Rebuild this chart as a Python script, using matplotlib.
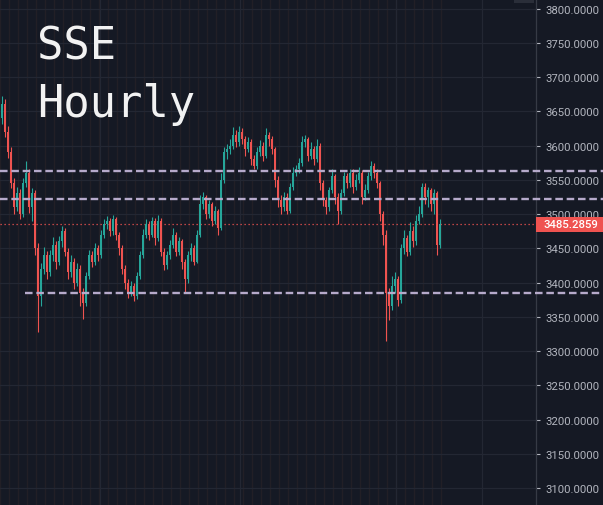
import matplotlib
matplotlib.use('Agg')
import matplotlib.pyplot as plt
from matplotlib.patches import Rectangle

# ---- data ----
first_open = 3640
closes = [
    3660, 3620, 3590, 3545, 3510,
    3530, 3500, 3545, 3560, 3510,
    3530, 3450, 3380, 3420, 3440,
    3415, 3440, 3455, 3430, 3460,
    3475, 3445, 3415, 3430, 3400,
    3420, 3385, 3370, 3410, 3440,
    3430, 3450, 3440, 3470, 3485,
    3490, 3475, 3492, 3470, 3450,
    3420, 3400, 3385, 3395, 3380,
    3410, 3440, 3470, 3485, 3470,
    3490, 3465, 3490, 3445, 3425,
    3440, 3455, 3470, 3445, 3460,
    3430, 3405, 3440, 3450, 3430,
    3470, 3515, 3525, 3500, 3515,
    3490, 3505, 3480, 3550, 3590,
    3595, 3600, 3615, 3605, 3620,
    3610, 3595, 3605, 3580, 3570,
    3590, 3600, 3585, 3615, 3610,
    3595, 3550, 3520, 3510, 3525,
    3505, 3540, 3560, 3565, 3575,
    3605, 3610, 3585, 3595, 3580,
    3600, 3545, 3520, 3510, 3535,
    3555, 3525, 3505, 3530, 3555,
    3545, 3560, 3540, 3550, 3560,
    3525, 3535, 3555, 3570, 3560,
    3545, 3500, 3470, 3385, 3365,
    3395, 3405, 3375, 3450, 3465,
    3445, 3475, 3460, 3490, 3500,
    3540, 3525, 3535, 3515, 3530,
    3455, 3485.2859,
]
highs = [
    3672, 3668, 3628, 3598, 3552,
    3540, 3536, 3552, 3578, 3565,
    3538, 3535, 3458, 3428, 3452,
    3446, 3448, 3466, 3460, 3468,
    3482, 3480, 3450, 3440, 3436,
    3428, 3425, 3392, 3416, 3448,
    3446, 3458, 3455, 3476, 3492,
    3497, 3494, 3498, 3496, 3474,
    3455, 3425, 3405, 3402, 3400,
    3416, 3446, 3478, 3492, 3490,
    3496, 3494, 3498, 3494, 3450,
    3446, 3462, 3480, 3474, 3466,
    3464, 3434, 3446, 3458, 3455,
    3476, 3528, 3532, 3528, 3520,
    3518, 3512, 3508, 3560, 3598,
    3602, 3610, 3627, 3622, 3628,
    3625, 3614, 3612, 3610, 3586,
    3598, 3608, 3605, 3625, 3620,
    3614, 3598, 3555, 3528, 3532,
    3530, 3546, 3568, 3572, 3582,
    3614, 3616, 3612, 3605, 3600,
    3610, 3603, 3550, 3525, 3540,
    3566, 3558, 3530, 3536, 3562,
    3560, 3566, 3565, 3558, 3568,
    3564, 3544, 3562, 3578, 3575,
    3565, 3548, 3505, 3476, 3392,
    3410, 3415, 3410, 3456, 3476,
    3470, 3488, 3482, 3498, 3512,
    3546, 3545, 3540, 3538, 3536,
    3534, 3492,
]
lows = [
    3632, 3612, 3582, 3538, 3500,
    3505, 3492, 3496, 3540, 3502,
    3490, 3440, 3328, 3365, 3412,
    3405, 3410, 3432, 3420, 3425,
    3452, 3438, 3405, 3408, 3390,
    3395, 3365, 3347, 3365, 3405,
    3422, 3426, 3432, 3436, 3465,
    3478, 3468, 3470, 3462, 3440,
    3412, 3390, 3378, 3380, 3373,
    3376, 3405, 3436, 3465, 3462,
    3466, 3455, 3460, 3438, 3418,
    3420, 3435, 3450, 3438, 3440,
    3420, 3385, 3400, 3432, 3425,
    3428, 3466, 3508, 3492, 3494,
    3482, 3485, 3470, 3476, 3545,
    3580, 3588, 3595, 3598, 3600,
    3602, 3585, 3590, 3572, 3565,
    3566, 3585, 3578, 3582, 3600,
    3588, 3540, 3510, 3500, 3505,
    3500, 3502, 3535, 3555, 3560,
    3570, 3598, 3578, 3580, 3572,
    3576, 3535, 3512, 3500, 3505,
    3530, 3515, 3485, 3500, 3526,
    3538, 3540, 3530, 3535, 3545,
    3515, 3520, 3530, 3550, 3552,
    3538, 3490, 3455, 3315, 3345,
    3360, 3385, 3365, 3370, 3442,
    3438, 3440, 3452, 3455, 3485,
    3495, 3515, 3510, 3505, 3500,
    3440, 3450,
]
level_prices = [3563, 3522, 3385]
title_lines = ["SSE", "Hourly"]
y_ticks = list(range(3100, 3801, 50))
last_price = closes[-1]

# ---- style ----
BG = '#151924'
GRID = '#232733'
UP = '#26a69a'
DOWN = '#ef5350'
LEVEL = '#b6aacb'
TXT = '#b2b5be'

W, H = 603, 506
fig = plt.figure(figsize=(W / 100, H / 100), dpi=100, facecolor=BG)
axw = 536 / W
ax = fig.add_axes([0, 0, axw, 1])
ax.set_facecolor(BG)

n = len(closes)
opens = [first_open] + closes[:-1]
ax.set_xlim(-0.5, -0.5 + 536 / 3)
ax.set_ylim(3075.2, 3813.9)

# faint session separators
for k in range(0, n + 1, 3):
    ax.axvline(k - 1.0 + 0.35, color='#221f26', lw=1.0, zorder=0.5)

# grid
ax.set_yticks(y_ticks)
ax.set_yticklabels([f"{v:.4f}" for v in y_ticks], fontfamily='Roboto')
ax.set_xticks([32.8, 79.5, 131.5, 160.2])
ax.grid(True, color=GRID, lw=0.9, zorder=0.6)
ax.tick_params(axis='x', length=0, labelbottom=False)
ax.yaxis.tick_right()
ax.tick_params(axis='y', colors=TXT, labelsize=8.2, length=3, width=0.8, pad=4)
for t in ax.yaxis.get_ticklines():
    t.set_color('#3a3e49')
for s in ['left', 'top', 'bottom']:
    ax.spines[s].set_visible(False)
ax.spines['right'].set_color('#363a45')
ax.spines['right'].set_linewidth(0.9)

# candles
xs = list(range(n))
cols = [UP if c >= o else DOWN for o, c in zip(opens, closes)]
ax.vlines(xs, lows, highs, colors=cols, lw=0.8, zorder=3)
bottoms = [min(o, c) for o, c in zip(opens, closes)]
heights = [max(abs(c - o), 1.0) for o, c in zip(opens, closes)]
ax.bar(xs, heights, bottom=bottoms, width=0.62, color=cols, lw=0, zorder=3)

# last price dotted line
ax.axhline(last_price, color=DOWN, lw=0.9, ls=(0, (1, 2.2)), zorder=2)

# horizontal dashed levels
starts = [0.0, 0.0, 25 / 536]
for p, s in zip(level_prices, starts):
    ax.axhline(p, xmin=s, xmax=W / 536, color=LEVEL, lw=1.7,
               ls=(0, (3.2, 1.6)), clip_on=False, zorder=5)

# title
fig.text(37 / W, 1 - 60 / H, title_lines[0], color='#f2f2f2', fontsize=31.5,
         fontfamily='DejaVu Sans Mono', va='baseline', ha='left')
fig.text(37 / W, 1 - 117 / H, title_lines[1], color='#f2f2f2', fontsize=31.5,
         fontfamily='DejaVu Sans Mono', va='baseline', ha='left')

# price label on axis
fig.canvas.draw()
yd = ax.transData.transform((0, last_price))[1]
yf = yd / H
bh = 15 / H
fig.patches.append(Rectangle((axw, yf - bh / 2), 1 - axw, bh, transform=fig.transFigure,
                             facecolor=DOWN, edgecolor='none', zorder=10))
fig.text(axw + 8 / W, yf, f"{last_price:.4f}", color='white', fontsize=8.2,
         fontfamily='Roboto', fontweight='medium', va='center', ha='left', zorder=11)

# small toolbar button top right
fig.patches.append(Rectangle((514 / W, 1 - 4 / H), 20 / W, 4 / H, transform=fig.transFigure,
                             facecolor='#2a2e39', edgecolor='none', zorder=10))

fig.savefig('out.png', dpi=100, facecolor=BG)
